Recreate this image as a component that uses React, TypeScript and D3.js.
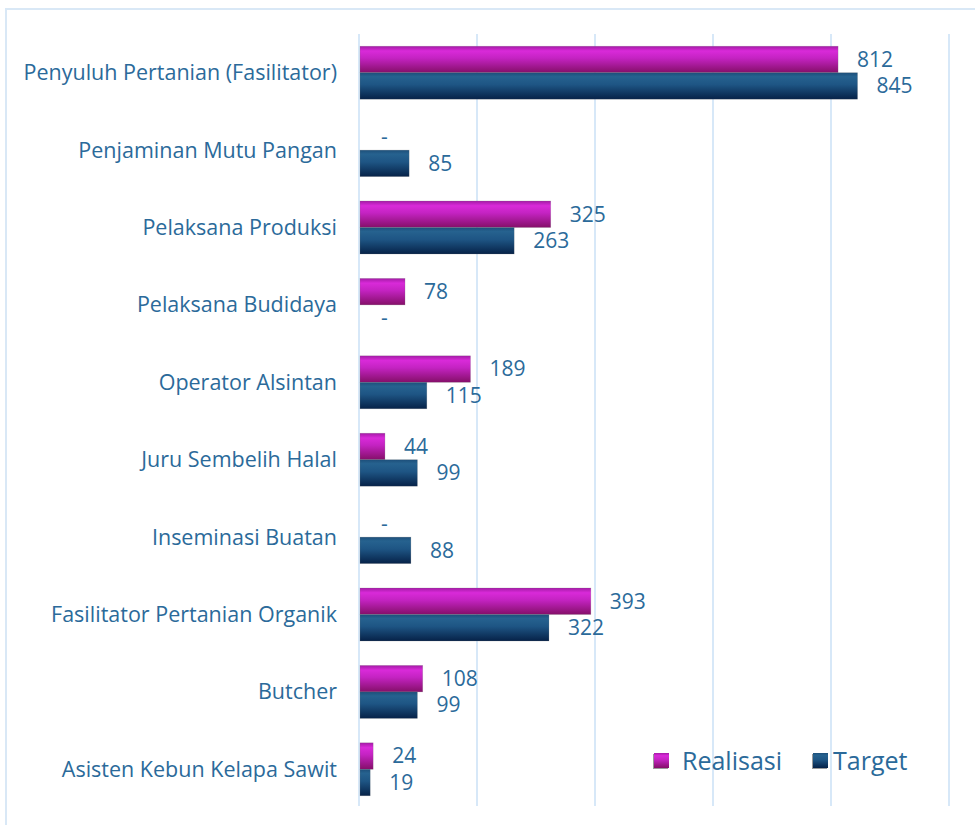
import React, { useEffect, useRef } from 'react'
import * as d3 from 'd3'

const categories = [
  'Penyuluh Pertanian (Fasilitator)',
  'Penjaminan Mutu Pangan',
  'Pelaksana Produksi',
  'Pelaksana Budidaya',
  'Operator Alsintan',
  'Juru Sembelih Halal',
  'Inseminasi Buatan',
  'Fasilitator Pertanian Organik',
  'Butcher',
  'Asisten Kebun Kelapa Sawit'
]
const realisasi = [812, 0, 325, 78, 189, 44, 0, 393, 108, 24]
const target = [845, 85, 263, 0, 115, 99, 88, 322, 99, 19]
const seriesNames = ['Realisasi', 'Target']
const xTicks = [0, 200, 400, 600, 800, 1000]

const W = 975
const H = 825
const textColor = '#2b6a9a'
const gridColor = '#d7e8f8'
const font = '"Open Sans", "Noto Sans", sans-serif'

export default function App() {
  const ref = useRef<SVGSVGElement>(null)

  useEffect(() => {
    const svg = d3.select(ref.current)
    svg.selectAll('*').remove()

    const margin = { top: 34, left: 359, right: 26, bottom: 17 }

    const x = d3.scaleLinear().domain([0, 1000]).range([margin.left, W - margin.right])
    const y = d3.scaleBand().domain(categories).range([margin.top, H - margin.bottom]).padding(0)
    const inner = d3.scaleBand().domain(seriesNames).range([12.2, y.bandwidth() - 12.2]).padding(0)

    // gradients
    const defs = svg.append('defs')
    const gradMag = defs.append('linearGradient').attr('id', 'gMag')
      .attr('x1', 0).attr('y1', 0).attr('x2', 0).attr('y2', 1)
    gradMag.append('stop').attr('offset', '0%').attr('stop-color', '#a41aa6')
    gradMag.append('stop').attr('offset', '18%').attr('stop-color', '#d92ad9')
    gradMag.append('stop').attr('offset', '45%').attr('stop-color', '#c423c2')
    gradMag.append('stop').attr('offset', '100%').attr('stop-color', '#850f69')
    const gradBlue = defs.append('linearGradient').attr('id', 'gBlue')
      .attr('x1', 0).attr('y1', 0).attr('x2', 0).attr('y2', 1)
    gradBlue.append('stop').attr('offset', '0%').attr('stop-color', '#1d4f7a')
    gradBlue.append('stop').attr('offset', '15%').attr('stop-color', '#26628f')
    gradBlue.append('stop').attr('offset', '45%').attr('stop-color', '#1e5584')
    gradBlue.append('stop').attr('offset', '100%').attr('stop-color', '#062248')
    const fills = ['url(#gMag)', 'url(#gBlue)']

    // outer border
    svg.append('rect')
      .attr('x', 6).attr('y', 9)
      .attr('width', W + 20).attr('height', H + 20)
      .attr('fill', '#fff')
      .attr('stroke', '#d9e8f6')
      .attr('stroke-width', 2)

    // gridlines
    svg.append('g')
      .selectAll('line')
      .data(xTicks)
      .enter().append('line')
      .attr('x1', d => x(d)).attr('x2', d => x(d))
      .attr('y1', margin.top).attr('y2', 806)
      .attr('stroke', gridColor)
      .attr('stroke-width', 2)

    // category labels
    svg.append('g')
      .selectAll('text')
      .data(categories)
      .enter().append('text')
      .attr('x', margin.left - 22)
      .attr('y', d => (y(d) as number) + y.bandwidth() / 2)
      .attr('dy', '0.35em')
      .attr('text-anchor', 'end')
      .style('font-family', font)
      .style('font-size', '21.5px')
      .style('fill', textColor)
      .text(d => d)

    const rows = categories.map((c, i) => ({ c, vals: [realisasi[i], target[i]] }))

    const groups = svg.append('g').selectAll('g')
      .data(rows)
      .enter().append('g')
      .attr('transform', d => 'translate(0,' + y(d.c) + ')')

    groups.selectAll('rect')
      .data(d => d.vals.map((v, k) => ({ v, k })))
      .enter().append('rect')
      .attr('x', x(0) + 1)
      .attr('y', d => inner(seriesNames[d.k]) as number)
      .attr('width', d => Math.max(0, x(d.v) - x(0) - 1))
      .attr('height', inner.bandwidth())
      .attr('fill', d => fills[d.k])
      .attr('stroke', d => (d.v > 0 ? 'rgba(120,120,120,0.35)' : 'none'))
      .attr('stroke-width', 0.6)

    groups.selectAll('text')
      .data(d => d.vals.map((v, k) => ({ v, k })))
      .enter().append('text')
      .attr('x', d => x(d.v) + (d.v === 0 ? 22 : 19))
      .attr('y', d => (inner(seriesNames[d.k]) as number) + inner.bandwidth() / 2)
      .attr('dy', '0.35em')
      .style('font-family', font)
      .style('font-size', '21px')
      .style('fill', textColor)
      .text(d => (d.v === 0 ? '-' : String(d.v)))

    // legend
    const legendX = [654, 813]
    const leg = svg.append('g')
      .selectAll('g')
      .data(seriesNames)
      .enter().append('g')
      .attr('transform', (d, i) => 'translate(' + legendX[i] + ',753)')
    leg.append('rect')
      .attr('x', -1).attr('y', 1)
      .attr('width', 15).attr('height', 15)
      .attr('fill', '#9a9a9a')
    leg.append('rect')
      .attr('width', 15).attr('height', 15)
      .attr('fill', (d, i) => fills[i])
    leg.append('text')
      .attr('x', (d, i) => (i === 0 ? 28 : 20))
      .attr('y', 17)
      .style('font-family', font)
      .style('font-size', '25px')
      .style('fill', textColor)
      .text(d => d)
  }, [])

  return (
    <svg
      ref={ref}
      width={W}
      height={H}
      style={{ position: 'absolute', left: 0, top: 0, display: 'block', background: '#fff' }}
    />
  )
}
